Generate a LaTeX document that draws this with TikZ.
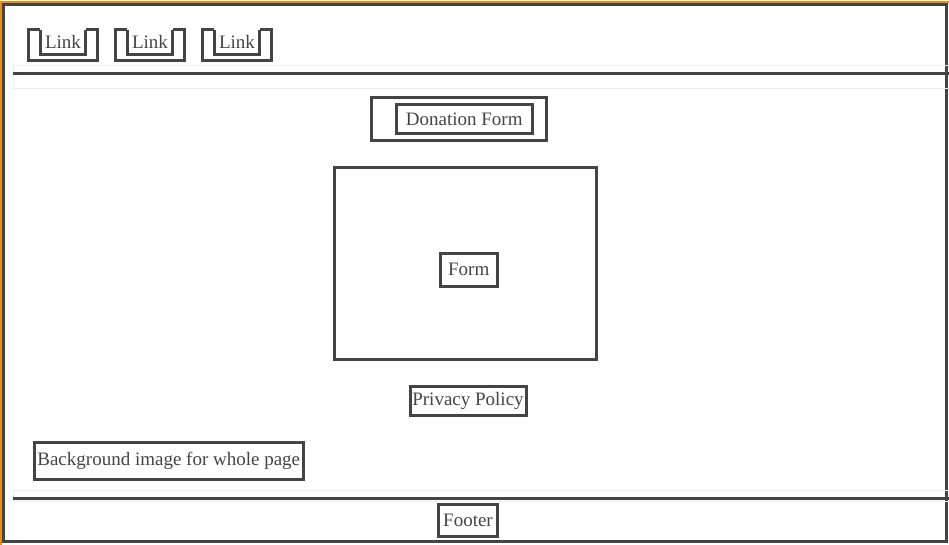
\documentclass[tikz,border=0pt]{standalone}
\usepackage{fontspec}
\setmainfont{Liberation Serif}
\usepackage{xcolor}

\definecolor{wire}{HTML}{444444}
\definecolor{faint}{HTML}{EEEEEE}
\definecolor{pageedge}{HTML}{F28C00}

\tikzset{
  box/.style={draw=wire, line width=3pt, rectangle, inner sep=0pt, text=wire,
    font=\fontsize{19}{21}\selectfont},
  label/.style={rectangle, inner sep=0pt, text=wire, font=\fontsize{19}{21}\selectfont},
  wireline/.style={draw=wire, line width=3pt},
  faintline/.style={draw=faint, line width=1pt},
}

\begin{document}
\begin{tikzpicture}[x={(1pt,0pt)}, y={(0pt,-1pt)}]
  \useasboundingbox (0,0) rectangle (949,545);

  % Page frame
  \draw[pageedge, line width=1.5pt] (1,545) -- (1,2) -- (949,2);
  \draw[wireline] (3.5,4.5) rectangle (946.5,541.5);

  % Header and footer bars
  \draw[faintline] (13,66) rectangle (949,89);
  \draw[wireline] (13,73.3) -- (949,73.3);
  \draw[faintline] (13,490.5) rectangle (949,501);
  \draw[wireline] (13,498) -- (949,498);

  % Nav links
  \foreach \i in {1,2,3} {
    \node[label, minimum width=45pt, minimum height=24pt] (link\i) at ({63+87*(\i-1)},42) {Link};
    \node[minimum width=69pt, minimum height=30pt, inner sep=0pt] (nav\i) at ({63+87*(\i-1)},45) {};
    \draw[wireline] (link\i.north west) -- (nav\i.north west) |- (nav\i.south east) |- (link\i.north east);
    \draw[wireline] (link\i.north west) |- (link\i.south east) -- (link\i.north east);
  }

  % Title
  \node[box, minimum width=175pt, minimum height=43.5pt] (TitleOuter) at (458.5,119.25) {};
  \node[box, minimum width=136.5pt, minimum height=29pt] (Title) at (464.25,119) {Donation Form};

  % Form area
  \node[box, minimum width=261.5pt, minimum height=192pt] (FormArea) at (465.25,263.5) {};
  \node[box, minimum width=57.5pt, minimum height=32.5pt] (Form) at (468.75,269.75) {Form};

  \node[box, minimum width=116pt, minimum height=28.5pt] (Privacy) at (468,400.75) {Privacy Policy};
  \node[box, minimum width=268.5pt, minimum height=37pt] (Background) at (168.75,461) {Background image for whole page};

  % Footer
  \node[box, minimum width=59pt, minimum height=32pt] (Footer) at (468,520.5) {Footer};
\end{tikzpicture}
\end{document}
